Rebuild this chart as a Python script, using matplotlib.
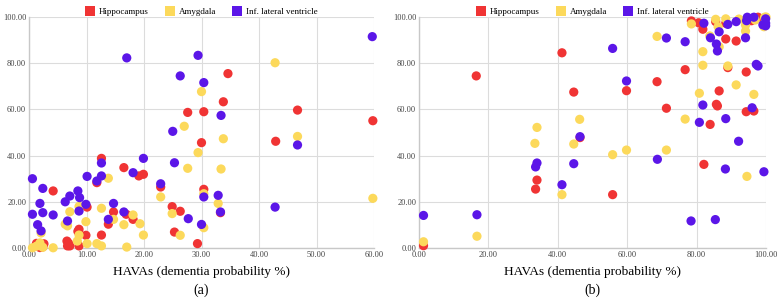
import matplotlib.pyplot as plt
from matplotlib.lines import Line2D

plt.rcParams['font.family'] = ['Liberation Serif', 'DejaVu Serif']

# series names and colours
series_names = ['Hippocampus', 'Amygdala', 'Inf. lateral ventricle']
series_colors = ['#f03434', '#fcd95b', '#5b16e8']

# panel (a)
hip_a_x = [34.6, 33.8, 27.6, 30.4, 46.7, 59.8, 30.0, 42.9, 12.6, 16.5, 19.1, 19.9, 11.8, 22.9, 4.2,
           30.4, 33.3, 24.9, 26.3, 25.3, 29.3, 10.1, 14.7, 16.9, 18.1, 13.8, 8.7, 8.5, 9.9, 12.6,
           8.7, 6.6, 6.7, 7.1, 1.3, 2.4, 1.9, 2.6, 6.9]
hip_a_y = [75.5, 63.3, 58.7, 59.0, 59.7, 55.1, 45.6, 46.2, 38.8, 34.8, 31.2, 31.9, 28.3, 26.4, 24.7,
           25.4, 15.3, 17.9, 15.9, 6.9, 1.9, 17.7, 15.6, 14.6, 12.4, 10.3, 8.1, 7.2, 5.5, 5.6,
           0.9, 3.0, 0.9, 0.9, 2.0, 0.5, 0.2, 1.8, 2.0]

amy_a_x = [42.8, 30.0, 27.0, 33.8, 46.7, 29.4, 27.6, 33.4, 13.8, 22.9, 30.4, 32.9, 59.8, 24.9, 26.3,
           30.4, 18.1, 19.3, 16.5, 12.6, 14.7, 9.9, 7.1, 8.7, 6.3, 6.7, 8.7, 8.4, 19.9, 12.6,
           10.1, 11.8, 17.0, 4.2, 0.6, 1.3, 1.9, 2.4, 2.1]
amy_a_y = [80.2, 67.7, 52.7, 47.3, 48.3, 41.3, 34.5, 34.2, 30.2, 22.1, 23.5, 19.3, 21.5, 14.9, 5.5,
           8.8, 14.3, 10.5, 10.1, 17.2, 12.4, 11.4, 15.7, 18.0, 10.3, 9.6, 5.6, 3.0, 5.6, 0.9,
           1.9, 1.9, 0.4, 0.1, 0.1, 0.8, 2.2, 0.3, 6.5]

ilv_a_x = [59.7, 17.0, 29.4, 26.3, 30.4, 33.4, 25.0, 46.7, 12.6, 19.9, 25.3, 0.6, 10.1, 12.6, 11.8,
           18.1, 22.9, 2.4, 30.4, 32.9, 42.8, 33.3, 27.7, 30.0, 0.6, 2.4, 1.9, 4.2, 1.5, 2.1,
           6.3, 7.1, 8.5, 8.8, 8.7, 6.7, 9.9, 14.7, 13.8, 16.5]
ilv_a_y = [91.5, 82.3, 83.4, 74.5, 71.6, 57.4, 50.5, 44.6, 36.8, 38.8, 36.9, 30.0, 31.0, 31.2, 29.0,
           32.6, 27.8, 25.8, 22.1, 22.8, 17.7, 15.6, 12.7, 10.2, 14.6, 15.3, 19.3, 14.3, 10.1, 7.4,
           20.0, 22.5, 24.7, 21.8, 16.0, 11.7, 18.9, 19.3, 12.4, 15.6]

# panel (b)
hip_b_x = [16.5, 41.2, 44.6, 59.8, 68.6, 71.3, 76.7, 46.4, 83.9, 86.5, 85.7, 86.0, 94.3, 96.5, 94.3,
           89.0, 81.8, 88.4, 91.4, 78.5, 80.6, 85.5, 88.4, 95.8, 97.7, 1.3, 34.0, 33.6, 55.8, 82.1]
hip_b_y = [74.5, 84.5, 67.5, 68.1, 72.0, 60.5, 77.2, 47.8, 53.5, 68.0, 62.2, 61.5, 59.0, 59.3, 76.2,
           78.1, 94.7, 90.5, 89.6, 98.3, 97.5, 98.0, 97.3, 98.4, 99.9, 1.0, 29.4, 25.5, 23.1, 36.2]

amy_b_x = [68.6, 76.7, 46.3, 34.0, 33.4, 44.6, 59.8, 71.3, 80.8, 91.4, 96.5, 89.0, 81.8, 81.8, 86.5,
           83.8, 94.1, 94.1, 78.5, 85.5, 86.2, 88.4, 92.2, 96.9, 99.6, 99.4, 100.0, 1.3, 16.7, 41.2,
           55.8, 94.5]
amy_b_y = [91.6, 55.8, 55.7, 52.2, 45.3, 45.0, 42.4, 42.4, 67.0, 70.6, 66.5, 78.8, 79.1, 85.0, 87.1,
           91.8, 93.9, 96.5, 97.0, 99.0, 95.8, 99.2, 99.1, 98.7, 99.9, 95.8, 100.0, 2.7, 5.1, 23.1,
           40.4, 31.0]

ilv_b_x = [55.8, 59.8, 71.3, 76.7, 46.4, 80.8, 81.8, 88.4, 96.0, 92.1, 97.2, 97.7, 86.0, 85.7, 84.0,
           86.5, 94.1, 82.1, 89.0, 91.4, 94.4, 94.6, 96.5, 99.9, 99.9, 99.9, 99.1, 1.3, 16.7, 33.6,
           34.0, 41.2, 44.6, 68.7, 88.3, 99.4, 78.4, 85.4]
ilv_b_y = [86.4, 72.3, 90.9, 89.3, 48.2, 54.4, 61.9, 56.0, 60.7, 46.2, 79.5, 78.8, 85.3, 88.3, 91.0,
           93.6, 91.0, 97.3, 96.8, 98.0, 98.4, 99.9, 99.9, 99.2, 97.3, 96.2, 96.6, 14.1, 14.4, 35.1,
           36.8, 27.4, 36.5, 38.4, 34.2, 33.0, 11.7, 12.3]

panels = [
    ([(hip_a_x, hip_a_y), (amy_a_x, amy_a_y), (ilv_a_x, ilv_a_y)], 60, 10, '(a)',
     [29 / 778, 1 - 248 / 302, 345 / 778, 231 / 302]),
    ([(hip_b_x, hip_b_y), (amy_b_x, amy_b_y), (ilv_b_x, ilv_b_y)], 100, 20, '(b)',
     [419 / 778, 1 - 248 / 302, 347 / 778, 231 / 302]),
]

fig = plt.figure(figsize=(7.78, 3.02), dpi=100)

for data, xmax, xstep, tag, rect in panels:
    ax = fig.add_axes(rect)
    for (xs, ys), name, col in zip(data, series_names, series_colors):
        ax.scatter(xs, ys, s=44, color=col, edgecolors='none', label=name,
                   clip_on=False, zorder=3)
    ax.set_xlim(0, xmax)
    ax.set_ylim(0, 100)
    ax.set_xticks(range(0, xmax + 1, xstep))
    ax.set_yticks(range(0, 101, 20))
    ax.xaxis.set_major_formatter(lambda v, p: f'{v:.2f}')
    ax.yaxis.set_major_formatter(lambda v, p: f'{v:.2f}')
    ax.tick_params(length=0, labelsize=6, colors='#444444', pad=2)
    ax.grid(True, color='#dcdcdc', linewidth=0.8, zorder=0)
    ax.set_axisbelow(True)
    for sp in ['top', 'right']:
        ax.spines[sp].set_visible(False)
    for sp in ['left', 'bottom']:
        ax.spines[sp].set_color('#c8c8c8')
        ax.spines[sp].set_linewidth(1.0)
    ax.set_xlabel('HAVAs (dementia probability %)', fontsize=9.5, labelpad=5)
    ax.text(0.5, -0.185, tag, transform=ax.transAxes, ha='center', va='center', fontsize=10)
    handles = [Line2D([], [], marker='s', linestyle='', markersize=7, color=c,
                      markeredgewidth=0) for c in series_colors]
    ax.legend(handles, series_names, loc='lower center', bbox_to_anchor=(0.5, 0.99), ncol=3,
              frameon=False, fontsize=6.5, handlelength=1.0, handletextpad=0.5,
              columnspacing=1.8, borderaxespad=0.0)

fig.savefig('out.png', dpi=100)
